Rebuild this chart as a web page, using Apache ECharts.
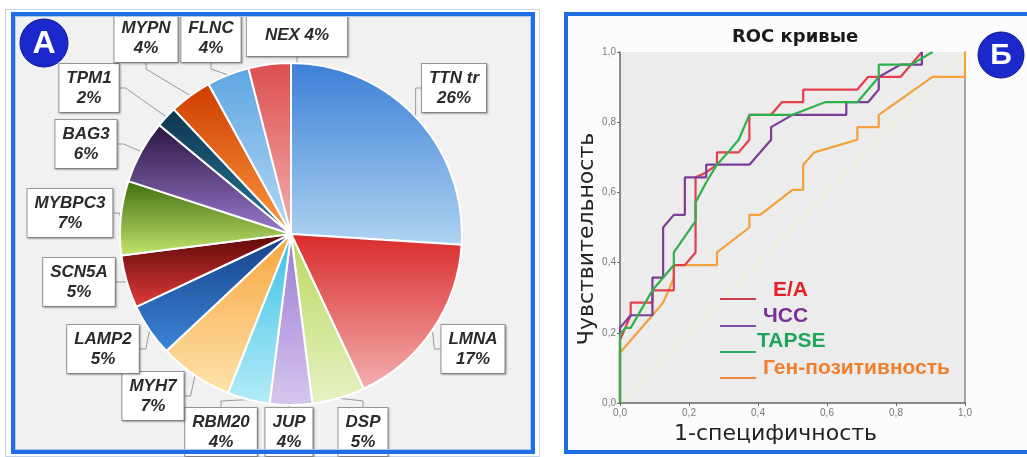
<!DOCTYPE html>
<html><head><meta charset="utf-8">
<script src="https://cdn.jsdelivr.net/npm/echarts@6/dist/echarts.min.js"></script>
<style>html,body{margin:0;padding:0;background:#fff}#c{width:1027px;height:457px}</style>
</head><body><div id="c"></div>
<script>
// ---- data ----
const genes = ['TTN tr','LMNA','DSP','JUP','RBM20','MYH7','LAMP2','SCN5A','MYBPC3','BAG3','TPM1','MYPN','FLNC','NEX'];
const genePct = [26,17,5,4,4,7,5,5,7,6,2,4,4,4];
const inlineLabel = ['NEX'];

const rocEA = [[0,0],[0,0.179],[0.031,0.25],[0.031,0.286],[0.094,0.286],[0.094,0.321],[0.156,0.321],[0.156,0.393],[0.188,0.393],[0.219,0.429],[0.219,0.643],[0.25,0.657],[0.281,0.679],[0.281,0.714],[0.344,0.714],[0.375,0.75],[0.375,0.821],[0.438,0.821],[0.469,0.857],[0.531,0.857],[0.531,0.893],[0.688,0.893],[0.719,0.929],[0.813,0.929],[0.875,1.0]];
const rocHR = [[0,0],[0,0.214],[0.031,0.25],[0.094,0.25],[0.094,0.357],[0.125,0.357],[0.125,0.5],[0.156,0.536],[0.188,0.536],[0.188,0.643],[0.25,0.643],[0.25,0.679],[0.375,0.679],[0.438,0.75],[0.438,0.786],[0.5,0.821],[0.656,0.821],[0.656,0.857],[0.719,0.857],[0.75,0.893],[0.75,0.929],[0.813,0.964],[0.875,0.964],[0.875,1.0]];
const rocTAPSE = [[0,0],[0,0.196],[0.016,0.214],[0.031,0.214],[0.094,0.321],[0.156,0.393],[0.156,0.429],[0.219,0.518],[0.219,0.571],[0.25,0.629],[0.281,0.679],[0.313,0.714],[0.344,0.75],[0.375,0.821],[0.5,0.821],[0.594,0.857],[0.688,0.857],[0.75,0.929],[0.75,0.964],[0.844,0.964],[0.906,1.0]];
const rocGene = [[0,0],[0,0.143],[0.094,0.25],[0.125,0.286],[0.141,0.321],[0.156,0.357],[0.156,0.393],[0.281,0.393],[0.281,0.429],[0.375,0.5],[0.375,0.536],[0.406,0.536],[0.5,0.607],[0.531,0.607],[0.531,0.679],[0.563,0.714],[0.688,0.75],[0.688,0.786],[0.75,0.786],[0.75,0.821],[0.906,0.929],[1,0.929],[1,1]];
const rocDiagonal = [[0,0],[1,1]];
const rocTickLabels = ['0,0','0,2','0,4','0,6','0,8','1,0'];
const rocNames = ['E/A','ЧСС','TAPSE','Ген-позитивность'];

// ---- styles / layout ----
const sliceColors = [
  ['#3b7fd6','#b0d4f2'],['#d92a2a','#f3b0b0'],['#b8d85c','#e6f2c4'],['#9a7ad0','#d6c6ef'],
  ['#3cc0e4','#b4ecf8'],['#f6a53c','#ffe2ac'],['#163f86','#3c86d8'],['#5c0808','#e23a3a'],
  ['#3f6e0e','#c4e46e'],['#2a1440','#9a7ad0'],['#0e3550','#2a7898'],['#cf3c00','#fa9a40'],
  ['#5ea6e2','#b6d8f4'],['#dc4e4e','#f4b0b0']
];
const labelPos = [[454,88],[473,349],[363,432],[289,432],[221,432],[153,396],[103,349],[79,282],[70,213],[86,144],[89,88],[146,38],[211,38],[297,35]];
const lineColors = ['#e2404c','#7d3c98','#2db24a','#f5a03a'];
const legendLineColors = ['#c8404e','#8050a8','#30a860','#f08838'];
const legendTextColors = ['#e8202a','#7b2f9b','#1fa65a','#ef7f2f'];
const legendTextX = [773,763,757,763];
const legendTextY = [290,316,341,368];
const legendLineY = [299,326,352,378];

const chart = echarts.init(document.getElementById('c'), null, {renderer:'canvas'});
const G = echarts.graphic;

const pieData = genes.map((g,i)=>({
  name:g, value:genePct[i],
  itemStyle:{color:new G.LinearGradient(0,0,0,1,[{offset:0,color:sliceColors[i][0]},{offset:1,color:sliceColors[i][1]}])},
  label: inlineLabel.includes(g) ? {padding:[11,18]} : {}
}));

const graphics = [
  // left panel
  {type:'rect', z:-10, shape:{x:5.5,y:9.5,width:534,height:447}, style:{fill:'#fff',stroke:'#c5d5e5',lineWidth:1}},
  {type:'rect', z:-9, shape:{x:13,y:14,width:520,height:438}, style:{fill:'#f1f1f1',stroke:null}},
  {type:'rect', z:100, shape:{x:13,y:14,width:520,height:438}, style:{fill:null,stroke:'#1e6fe6',lineWidth:4}},
  {type:'rect', z:100, shape:{x:15.5,y:16.5,width:515,height:433}, style:{fill:null,stroke:'#a8c8f0',lineWidth:1}},
  // right panel
  {type:'rect', z:-10, shape:{x:566,y:14,width:480,height:438}, style:{fill:'#fcfcfc',stroke:'#1f6fe0',lineWidth:4}},
  // badges
  {type:'circle', z:101, shape:{cx:44,cy:43,r:24}, style:{fill:'#1a28cc',stroke:'#0c1a8a',lineWidth:1}},
  {type:'text', z:102, x:44, y:44, style:{text:'А',fill:'#fff',font:'bold 32px "Liberation Sans", Arial, sans-serif',align:'center',verticalAlign:'middle'}},
  {type:'circle', z:101, shape:{cx:1001,cy:55,r:23}, style:{fill:'#1a28cc',stroke:'#0c1a8a',lineWidth:1}},
  {type:'text', z:102, x:1001, y:56, style:{text:'Б',fill:'#fff',font:'bold 30px "Liberation Sans", Arial, sans-serif',align:'center',verticalAlign:'middle'}},
  // ROC title
  {type:'text', z:10, x:795, y:37, style:{text:'ROC кривые',fill:'#1a1a1a',font:'bold 18px "DejaVu Sans", sans-serif',align:'center',verticalAlign:'middle'}}
];
rocNames.forEach((n,i)=>{
  graphics.push({type:'line', z:20, shape:{x1:720,y1:legendLineY[i],x2:756,y2:legendLineY[i]}, style:{stroke:legendLineColors[i],lineWidth:2}});
  graphics.push({type:'text', z:20, x:legendTextX[i], y:legendTextY[i], style:{text:n,fill:legendTextColors[i],font:'bold 21px "Liberation Sans", Arial, sans-serif',align:'left',verticalAlign:'middle'}});
});

const rocSeries = (data, color, z) => ({type:'line', xAxisIndex:0, yAxisIndex:0, data, showSymbol:false, symbol:'none', silent:true, z, lineStyle:{color, width:2.2}, itemStyle:{color}});

chart.setOption({
  animation:false,
  graphic: graphics,
  grid:[{left:620, top:52, width:345, height:351, show:true, backgroundColor:'#ececec', borderWidth:0}],
  xAxis:[{type:'value', gridIndex:0, min:0, max:1, interval:0.2,
    axisLine:{show:true, lineStyle:{color:'#666', width:1.5}},
    axisTick:{show:true, length:3, lineStyle:{color:'#666'}},
    axisLabel:{fontSize:10, color:'#777', margin:5, formatter:(v)=>rocTickLabels[Math.round(v*5)]},
    splitLine:{show:false},
    name:'1-специфичность', nameLocation:'middle', nameGap:15,
    nameTextStyle:{fontSize:22, color:'#222', fontFamily:'DejaVu Sans', verticalAlign:'top', padding:[0,34,0,0]}
  }],
  yAxis:[{type:'value', gridIndex:0, min:0, max:1, interval:0.2,
    axisLine:{show:true, lineStyle:{color:'#666', width:1.5}},
    axisTick:{show:true, length:3, lineStyle:{color:'#666'}},
    axisLabel:{fontSize:10, color:'#777', margin:4, formatter:(v)=>rocTickLabels[Math.round(v*5)]},
    splitLine:{show:false},
    name:'Чувствительность', nameLocation:'middle', nameGap:19, nameRotate:90,
    nameTextStyle:{fontSize:22, color:'#222', fontFamily:'DejaVu Sans', padding:[0,23,0,0]}
  },{type:'value', gridIndex:0, min:0, max:1, position:'right',
    axisLine:{show:true, lineStyle:{color:'#8a8a8a', width:1.5}},
    axisTick:{show:false}, axisLabel:{show:false}, splitLine:{show:false}
  }],
  series:[
    {type:'line', xAxisIndex:0, yAxisIndex:0, data:rocDiagonal, symbol:'none', silent:true, z:2, lineStyle:{color:'#f3eeb0', width:1}},
    rocSeries(rocGene, lineColors[3], 3),
    rocSeries(rocEA, lineColors[0], 4),
    rocSeries(rocHR, lineColors[1], 5),
    rocSeries(rocTAPSE, lineColors[2], 6),
    {
      type:'pie', center:[291,234], radius:171, startAngle:90, clockwise:true,
      avoidLabelOverlap:false, silent:true, z:10,
      itemStyle:{borderColor:'#fff', borderWidth:2},
      label:{show:true, position:'outside',
        formatter:(p)=> inlineLabel.includes(p.name) ? p.name+' '+p.value+'%' : p.name+'\n'+p.value+'%',
        fontStyle:'italic', fontWeight:'bold', fontSize:17, lineHeight:20, color:'#2a2a2a',
        fontFamily:'"Liberation Sans", Arial, sans-serif',
        backgroundColor:'#fff', borderColor:'#9a9a9a', borderWidth:1, padding:[4,7],
        shadowColor:'rgba(0,0,0,0.25)', shadowBlur:2, shadowOffsetX:1, shadowOffsetY:1},
      labelLine:{show:true, length:8, length2:6, lineStyle:{color:'#9a9a9a', width:1}},
      labelLayout:(p)=>({x:labelPos[p.dataIndex][0], y:labelPos[p.dataIndex][1], align:'center', verticalAlign:'middle'}),
      data:pieData
    }
  ]
});
</script></body></html>
